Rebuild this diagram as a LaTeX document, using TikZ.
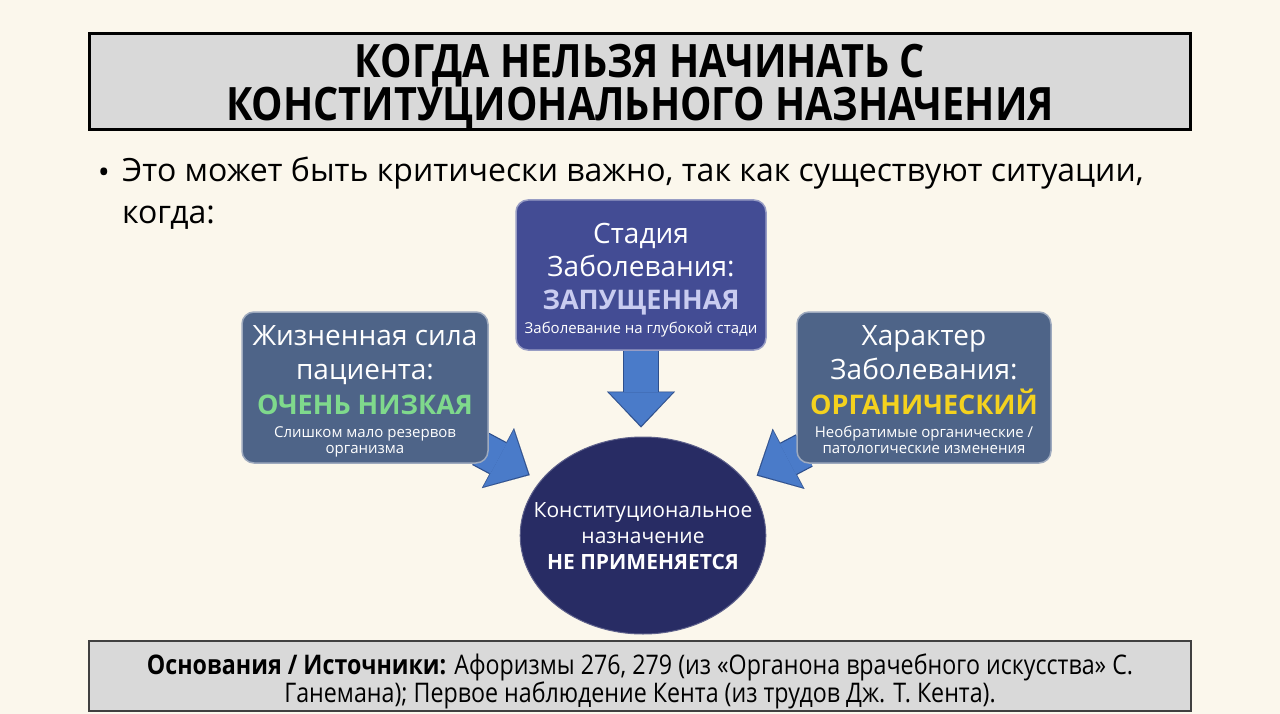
\documentclass[tikz,border=0pt]{standalone}
\usepackage{fontspec}
\setmainfont{Open Sans}
\newfontfamily\narrowfont[FakeStretch=0.86]{Open Sans}
\usetikzlibrary{positioning, arrows.meta, calc, shapes.geometric, backgrounds}
\definecolor{paper}{HTML}{FBF7EC}
\definecolor{panelgray}{HTML}{D9D9D9}
\definecolor{stageblue}{HTML}{434C94}
\definecolor{slateblue}{HTML}{4E6488}
\definecolor{navy}{HTML}{282C64}
\definecolor{arrowblue}{HTML}{4A7BC9}
\definecolor{arrowedge}{HTML}{2E4F8C}
\definecolor{lowgreen}{HTML}{7FD98C}
\definecolor{organicyellow}{HTML}{F4D21E}
\definecolor{lavender}{HTML}{C9CCF0}
\newcommand{\keysize}{\fontsize{27}{34}\selectfont\bfseries}
\newcommand{\notesize}{\fontsize{15}{18}\selectfont}
% one line of text with no height, lowered by #1
\newcommand{\txtrow}[2]{\raisebox{#1}[0pt][0pt]{#2}}
\tikzset{
  titlebox/.style={draw=black, line width=3pt, fill=panelgray, minimum width=1101pt, minimum height=96pt, align=center,
    font=\narrowfont\bfseries\fontsize{46}{43}\selectfont},
  sourcebox/.style={draw=black!75, line width=2pt, fill=panelgray, minimum width=1102pt, minimum height=70pt, align=center,
    font=\narrowfont\fontsize{27}{28}\selectfont},
  factor/.style={rounded corners=12pt, draw=white!45!#1, line width=1.5pt, fill=#1, text=white, align=center,
    minimum height=150pt, inner sep=0pt, font=\fontsize{28}{34}\selectfont},
  verdict/.style={ellipse, fill=navy, draw=white!25!navy, line width=1pt, text=white, minimum width=244pt, minimum height=197pt,
    align=center, inner xsep=-22.5pt, inner ysep=0pt, font=\fontsize{21}{26.25}\selectfont}
}
% block arrow: from, to, tail shift, gap before tip
\newcommand{\blockarrow}[4]{%
  \draw[arrowedge, line width=36.4pt, shorten <=#3, shorten >=#4,
    -{Triangle[length=36pt, width=68pt, line width=0.1pt]}] (#1) -- (#2);
  \draw[arrowblue, line width=34pt, shorten <=#3, shorten >={#4+1.8pt},
    -{Triangle[length=33.5pt, width=64pt, line width=0.1pt]}] (#1) -- (#2);
}

\begin{document}
\begin{tikzpicture}[x=1pt, y=-1pt]
  \useasboundingbox (0,0) rectangle (1280,714);
  \begin{scope}[on background layer]
    \fill[paper] (0,0) rectangle (1280,714);
  \end{scope}

  % heading
  \node[titlebox] (title) at (640,81.5)
    {\txtrow{-18pt}{КОГДА НЕЛЬЗЯ НАЧИНАТЬ С}\\\txtrow{-18pt}{КОНСТИТУЦИОНАЛЬНОГО НАЗНАЧЕНИЯ}};
  \node[font=\fontsize{32}{42}\selectfont] (bullet) at (104,176) {•};
  \node[anchor=north west, align=left, inner sep=0pt, font=\fontsize{32}{42}\selectfont] (intro) at (122,157)
    {Это может быть критически важно, так как существуют ситуации,\\когда:};

  % three factors
  \node[factor=stageblue, minimum width=250pt] (stage) at (641,275)
    {\txtrow{-13.5pt}{Стадия}\\[-1pt]\txtrow{-13.5pt}{Заболевания:}\\[-1pt]%
     \txtrow{-13.5pt}{\keysize\color{lavender}ЗАПУЩЕННАЯ}\\[-10pt]%
     \txtrow{-13.5pt}{\notesize Заболевание на глубокой стади}};
  \node[factor=slateblue, minimum width=246pt, minimum height=151pt] (life) at (365,387.5)
    {\txtrow{-12pt}{Жизненная сила}\\\txtrow{-12pt}{пациента:}\\[1pt]%
     \txtrow{-12pt}{\keysize\color{lowgreen}ОЧЕНЬ НИЗКАЯ}\\[-11pt]%
     \txtrow{-12pt}{\notesize Слишком мало резервов}\\[-18pt]\txtrow{-12pt}{\notesize организма}};
  \node[factor=slateblue, minimum width=254pt, minimum height=151pt] (organic) at (924,387.5)
    {\txtrow{-12pt}{Характер}\\\txtrow{-12pt}{Заболевания:}\\[1pt]%
     \txtrow{-12pt}{\keysize\color{organicyellow}ОРГАНИЧЕСКИЙ}\\[-11pt]%
     \txtrow{-12pt}{\notesize Необратимые органические /}\\[-18pt]\txtrow{-12pt}{\notesize патологические изменения}};

  % outcome
  \node[verdict] (result) at (643,535.5)
    {\txtrow{-8pt}{Конституциональное}\\\txtrow{-8pt}{назначение}\\\txtrow{-8pt}{\bfseries НЕ ПРИМЕНЯЕТСЯ}};

  % sources
  \node[sourcebox] (sources) at (640,676)
    {\txtrow{-12.6pt}{\textbf{Основания / Источники:} Афоризмы 276, 279 (из «Органона врачебного искусства» С.}\\%
     \txtrow{-12.6pt}{Ганемана); Первое наблюдение Кента (из трудов Дж. Т. Кента).}};

  % arrows behind the boxes
  \begin{scope}[on background layer]
    \blockarrow{stage.south}{stage.south |- result.north}{0pt}{9pt}
    \blockarrow{life}{result}{-9pt}{12pt}
    \blockarrow{organic}{result}{-9pt}{12pt}
  \end{scope}
\end{tikzpicture}
\end{document}
